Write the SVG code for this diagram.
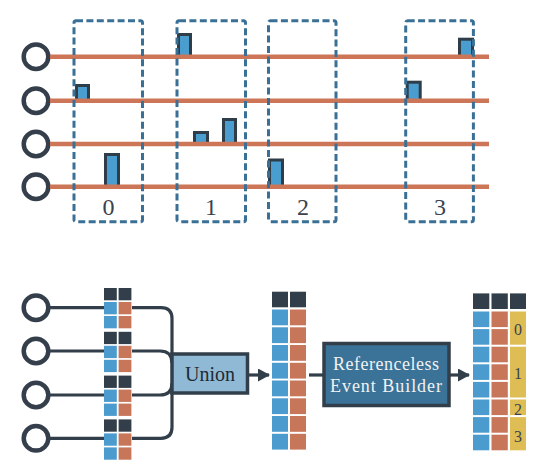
<svg xmlns="http://www.w3.org/2000/svg" width="540" height="473" viewBox="0 0 540 473">
<defs>
<style>
.ring{fill:none;stroke:#353f4c;stroke-width:4.5}
.wire{fill:none;stroke:#cd7657;stroke-width:4.5}
.win{fill:none;stroke:#3a7096;stroke-width:3;stroke-dasharray:7 3.4}
.hit{fill:#4a9dcf;stroke:#2f3d48;stroke-width:3}
.lbl{fill:#3a4250;text-anchor:middle}
.conn{fill:none;stroke:#323f4a;stroke-width:3.2}
.d{fill:#323f4a}
.b{fill:#4b9bce}
.o{fill:#c8765a}
.y{fill:#dfbd55}
.box{stroke:#323f4a;stroke-width:3.5}
</style>
<marker id="arr" markerUnits="userSpaceOnUse" markerWidth="12" markerHeight="13" refX="11" refY="6.5" orient="auto">
<path d="M0,0 L12,6.5 L0,13 z" fill="#323f4a"/>
</marker>
</defs>
<rect width="540" height="473" fill="#ffffff"/>

<g id="top-sensors">
<circle class="ring" cx="36" cy="56.7" r="12.3"/>
<circle class="ring" cx="36" cy="100.7" r="12.3"/>
<circle class="ring" cx="36" cy="144" r="12.3"/>
<circle class="ring" cx="36" cy="186.7" r="12.3"/>
</g>

<g id="hits">
<rect class="hit" x="178.5" y="34.5" width="12" height="22"/>
<rect class="hit" x="76.5" y="85.5" width="12" height="15"/>
<rect class="hit" x="194.5" y="132.5" width="13" height="11.5"/>
<rect class="hit" x="223.5" y="119.5" width="12" height="24.5"/>
<rect class="hit" x="105.5" y="154.5" width="13" height="32"/>
<rect class="hit" x="269.5" y="160" width="13" height="26.7"/>
<rect class="hit" x="407.2" y="82.2" width="13" height="18.5"/>
<rect class="hit" x="459.5" y="39.2" width="13" height="17.5"/>
</g>

<g id="wires">
<line class="wire" x1="50" y1="56.7" x2="489" y2="56.7"/>
<line class="wire" x1="50" y1="100.7" x2="489" y2="100.7"/>
<line class="wire" x1="50" y1="144" x2="489" y2="144"/>
<line class="wire" x1="50" y1="186.7" x2="489" y2="186.7"/>
</g>

<g id="windows" font-family="'Liberation Serif', 'DejaVu Serif', serif">
<rect class="win" x="74" y="20.7" width="68.5" height="201" rx="2"/>
<rect class="win" x="177" y="20.7" width="68.5" height="201" rx="2"/>
<rect class="win" x="268.5" y="20.7" width="67.5" height="201" rx="2"/>
<rect class="win" x="405.7" y="20.7" width="67.7" height="201" rx="2"/>
<text class="lbl" x="108.5" y="215" font-size="24">0</text>
<text class="lbl" x="211" y="215" font-size="24">1</text>
<text class="lbl" x="303" y="215" font-size="24">2</text>
<text class="lbl" x="440" y="215" font-size="24">3</text>
</g>

<g id="connectors">
<line class="conn" x1="50" y1="307.7" x2="104" y2="307.7"/>
<line class="conn" x1="50" y1="351" x2="104" y2="351"/>
<line class="conn" x1="50" y1="395" x2="104" y2="395"/>
<line class="conn" x1="50" y1="438.3" x2="104" y2="438.3"/>
<path class="conn" d="M132,307.7 H161 Q172,307.7 172,318.7 V356"/>
<path class="conn" d="M132,351 H160 Q172,351 172,363"/>
<path class="conn" d="M132,395 H160 Q172,395 172,383"/>
<path class="conn" d="M132,438.3 H161 Q172,438.3 172,427.3 V392"/>
<line class="conn" x1="248" y1="375" x2="269" y2="375" marker-end="url(#arr)"/>
<line class="conn" x1="309" y1="375" x2="324" y2="375"/>
<line class="conn" x1="449" y1="375" x2="469" y2="375" marker-end="url(#arr)"/>
</g>

<g id="bottom-sensors">
<circle class="ring" cx="36" cy="307.7" r="12.3"/>
<circle class="ring" cx="36" cy="351" r="12.3"/>
<circle class="ring" cx="36" cy="395" r="12.3"/>
<circle class="ring" cx="36" cy="438.3" r="12.3"/>
</g>

<g id="sensor-buffers">
<rect class="d" x="104" y="288" width="12.8" height="12.3"/><rect class="d" x="118.6" y="288" width="12.8" height="12.3"/>
<rect class="b" x="104" y="302" width="12.8" height="12.3"/><rect class="o" x="118.6" y="302" width="12.8" height="12.3"/>
<rect class="b" x="104" y="316" width="12.8" height="12.3"/><rect class="o" x="118.6" y="316" width="12.8" height="12.3"/>

<rect class="d" x="104" y="331.8" width="12.8" height="12.3"/><rect class="d" x="118.6" y="331.8" width="12.8" height="12.3"/>
<rect class="b" x="104" y="345.8" width="12.8" height="12.3"/><rect class="o" x="118.6" y="345.8" width="12.8" height="12.3"/>
<rect class="b" x="104" y="359.8" width="12.8" height="12.3"/><rect class="o" x="118.6" y="359.8" width="12.8" height="12.3"/>

<rect class="d" x="104" y="375.6" width="12.8" height="12.3"/><rect class="d" x="118.6" y="375.6" width="12.8" height="12.3"/>
<rect class="b" x="104" y="389.6" width="12.8" height="12.3"/><rect class="o" x="118.6" y="389.6" width="12.8" height="12.3"/>
<rect class="b" x="104" y="403.6" width="12.8" height="12.3"/><rect class="o" x="118.6" y="403.6" width="12.8" height="12.3"/>

<rect class="d" x="104" y="419.4" width="12.8" height="12.3"/><rect class="d" x="118.6" y="419.4" width="12.8" height="12.3"/>
<rect class="b" x="104" y="433.4" width="12.8" height="12.3"/><rect class="o" x="118.6" y="433.4" width="12.8" height="12.3"/>
<rect class="b" x="104" y="447.4" width="12.8" height="12.3"/><rect class="o" x="118.6" y="447.4" width="12.8" height="12.3"/>
</g>

<g id="union" font-family="'Liberation Serif', 'DejaVu Serif', serif">
<rect class="box" x="172" y="354" width="75.5" height="39" fill="#8fb9d4"/>
<text class="lbl" x="210" y="380.5" font-size="20" style="fill:#1f2a33">Union</text>
</g>

<g id="merged-stream">
<rect class="d" x="272" y="291.7" width="16" height="15.6"/><rect class="d" x="290" y="291.7" width="16" height="15.6"/>
<rect class="b" x="272" y="309.5" width="16" height="15.8"/><rect class="o" x="290" y="309.5" width="16" height="15.8"/>
<rect class="b" x="272" y="327.3" width="16" height="15.8"/><rect class="o" x="290" y="327.3" width="16" height="15.8"/>
<rect class="b" x="272" y="345" width="16" height="15.8"/><rect class="o" x="290" y="345" width="16" height="15.8"/>
<rect class="b" x="272" y="362.8" width="16" height="15.8"/><rect class="o" x="290" y="362.8" width="16" height="15.8"/>
<rect class="b" x="272" y="380.5" width="16" height="15.8"/><rect class="o" x="290" y="380.5" width="16" height="15.8"/>
<rect class="b" x="272" y="398.3" width="16" height="15.8"/><rect class="o" x="290" y="398.3" width="16" height="15.8"/>
<rect class="b" x="272" y="416" width="16" height="15.8"/><rect class="o" x="290" y="416" width="16" height="15.8"/>
<rect class="b" x="272" y="433.8" width="16" height="15.8"/><rect class="o" x="290" y="433.8" width="16" height="15.8"/>
</g>

<g id="event-builder" font-family="'Liberation Serif', 'DejaVu Serif', serif">
<rect class="box" x="324" y="343.5" width="125" height="62" fill="#3a7298"/>
<text class="lbl" x="386" y="370" font-size="18" textLength="106" style="fill:#f2f2f2">Referenceless</text>
<text class="lbl" x="386" y="392" font-size="18" textLength="112" style="fill:#f2f2f2">Event Builder</text>
</g>

<g id="built-events" font-family="'Liberation Serif', 'DejaVu Serif', serif">
<rect class="d" x="473" y="293.4" width="16.3" height="15.6"/><rect class="d" x="491.5" y="293.4" width="16.3" height="15.6"/><rect class="d" x="510" y="293.4" width="16" height="15.6"/>
<rect class="b" x="473" y="311.5" width="16.3" height="15.6"/><rect class="o" x="491.5" y="311.5" width="16.3" height="15.6"/>
<rect class="b" x="473" y="329.1" width="16.3" height="15.6"/><rect class="o" x="491.5" y="329.1" width="16.3" height="15.6"/>
<rect class="b" x="473" y="346.7" width="16.3" height="15.6"/><rect class="o" x="491.5" y="346.7" width="16.3" height="15.6"/>
<rect class="b" x="473" y="364.3" width="16.3" height="15.6"/><rect class="o" x="491.5" y="364.3" width="16.3" height="15.6"/>
<rect class="b" x="473" y="381.9" width="16.3" height="15.6"/><rect class="o" x="491.5" y="381.9" width="16.3" height="15.6"/>
<rect class="b" x="473" y="399.5" width="16.3" height="15.6"/><rect class="o" x="491.5" y="399.5" width="16.3" height="15.6"/>
<rect class="b" x="473" y="417.1" width="16.3" height="15.6"/><rect class="o" x="491.5" y="417.1" width="16.3" height="15.6"/>
<rect class="b" x="473" y="434.7" width="16.3" height="15.6"/><rect class="o" x="491.5" y="434.7" width="16.3" height="15.6"/>
<rect class="y" x="510" y="311.5" width="16" height="33.2"/>
<rect class="y" x="510" y="346.7" width="16" height="50.8"/>
<rect class="y" x="510" y="399.5" width="16" height="15.6"/>
<rect class="y" x="510" y="417.1" width="16" height="33.2"/>
<text class="lbl" x="518" y="335" font-size="16">0</text>
<text class="lbl" x="518" y="379" font-size="16">1</text>
<text class="lbl" x="518" y="415" font-size="16">2</text>
<text class="lbl" x="518" y="442" font-size="16">3</text>
</g>
</svg>
